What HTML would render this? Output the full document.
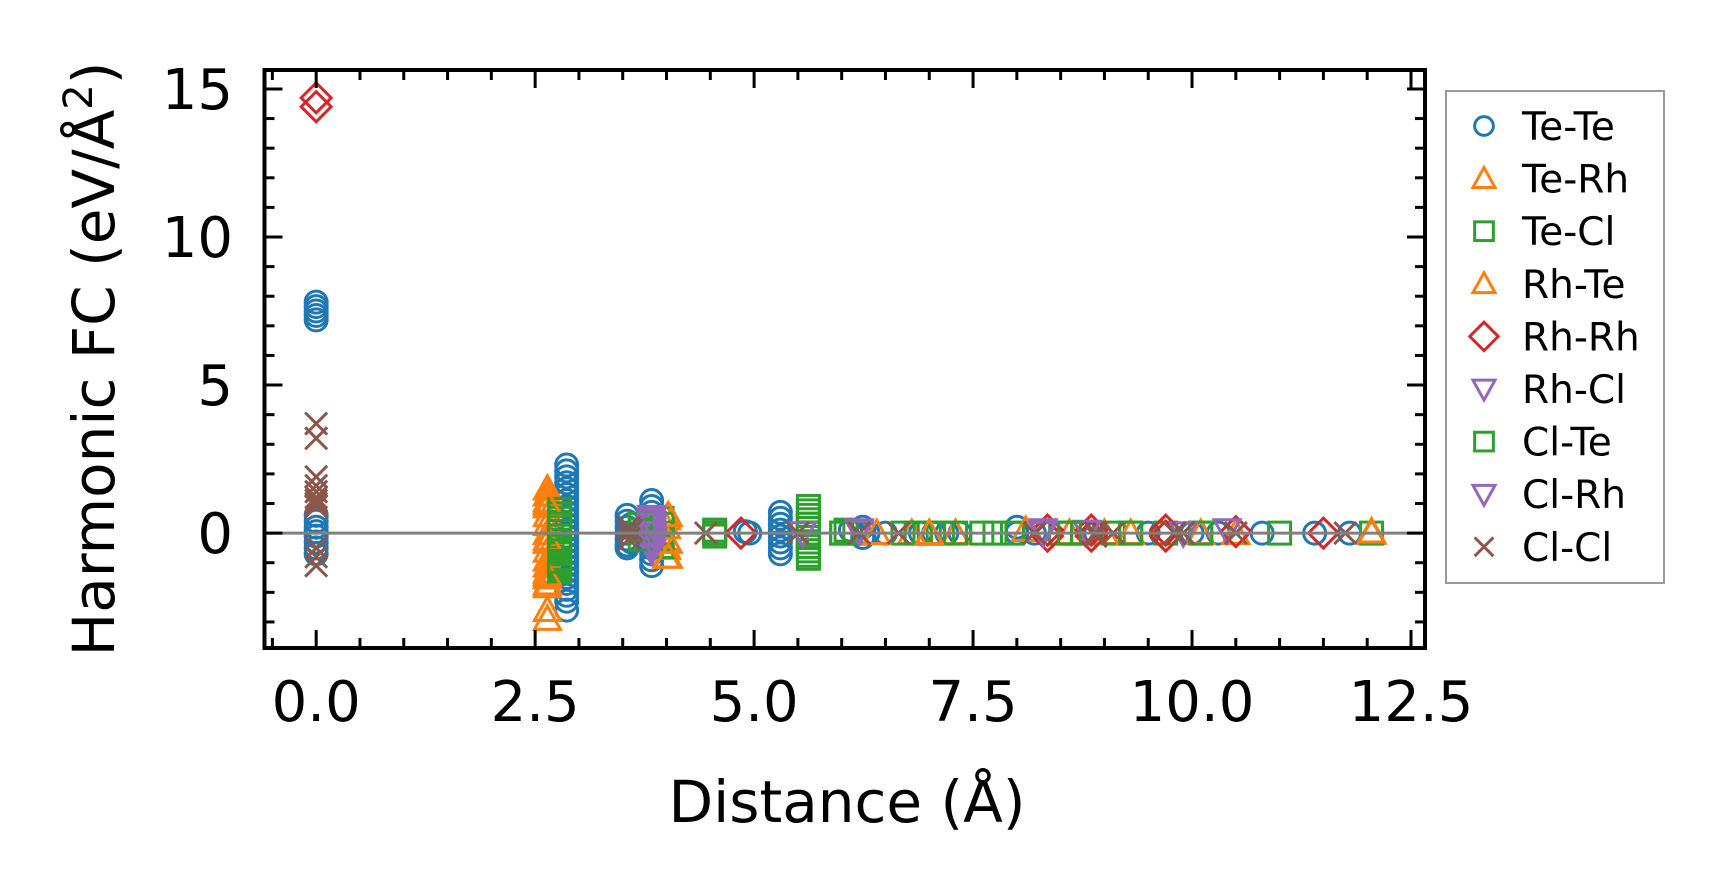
<!DOCTYPE html>
<html><head><meta charset="utf-8"><style>
html,body{margin:0;padding:0;background:#fff;}
svg{display:block;font-family:"DejaVu Sans","Liberation Sans",sans-serif;}
</style></head><body>
<svg id="chart" width="1723" height="893" viewBox="0 0 1723 893" xmlns="http://www.w3.org/2000/svg">
<rect width="1723" height="893" fill="#fff"/>
<g id="marks"></g>
<g id="axes"></g>
<text x="847" y="822" font-size="58" text-anchor="middle">Distance (Å)</text>
<text transform="translate(114,359) rotate(-90)" font-size="58" text-anchor="middle">Harmonic FC (eV/Å<tspan dy="-22" font-size="40">2</tspan><tspan dy="22">)</tspan></text>
<g id="legend"></g>
</svg>
<script>
const xTicks = [0, 2.5, 5, 7.5, 10, 12.5];
const xTickLabels = ["0.0", "2.5", "5.0", "7.5", "10.0", "12.5"];
const yTicks = [0, 5, 10, 15];
const yTickLabels = ["0", "5", "10", "15"];
const seriesNames = ["Te-Te","Te-Rh","Te-Cl","Rh-Te","Rh-Rh","Rh-Cl","Cl-Te","Cl-Rh","Cl-Cl"];

const teteX = [0,0,0,0,0,0,0,0,0,0,0,0,0, 2.86,2.86,2.86,2.86,2.86,2.86,2.86,2.86,2.86,2.86,2.86,2.86,2.86,2.86,2.86,2.86,2.86,2.86,2.86,2.86,2.86,2.86,2.86,2.86,2.86, 3.55,3.55,3.55,3.55,3.55,3.55,3.55,3.6,3.6, 3.83,3.83,3.83,3.83,3.83,3.83,3.83,3.83,3.85,3.85, 4.9,4.95, 5.3,5.3,5.3,5.3,5.3,5.3,5.3,5.3, 6.1,6.24,6.3,6.24,6.5,6.9,7.05,7.2,7.35,8.0,8.0,8.2,8.9,9.5,9.65,10.0,10.3,10.8,11.4,11.8];
const teteY = [7.8,7.65,7.5,7.35,7.2,0.6,0.4,0.2,0.05,-0.1,-0.3,-0.5,-0.7, 2.3,2.1,1.9,1.7,1.5,1.3,1.1,0.9,0.7,0.5,0.3,0.1,-0.1,-0.3,-0.5,-0.7,-0.9,-1.1,-1.3,-1.5,-1.7,-1.9,-2.1,-2.3,-2.6, 0.6,0.4,0.2,0,-0.2,-0.4,-0.5,0.3,-0.3, 1.1,0.9,0.7,0.5,-0.5,-0.7,-0.9,-1.1,0.2,-0.2, 0.05,0, 0.7,0.5,0.3,0.1,-0.1,-0.3,-0.5,-0.7, 0.1,0.2,0,-0.15,0,0,0,0,0,0.2,0,0,0,0,0,0,0,0,0,0];
const terhX = [2.64,2.64,2.64,2.64,2.64,2.64,2.64,2.64,2.64,2.64,2.64,2.64,2.64,2.64,2.64,2.64,2.64, 4.0,4.0,4.0,4.0,4.0, 6.8,7.3,8.6,9.0,10.5,12.05];
const terhY = [1.5,1.3,1.1,0.9,0.6,0.3,0,-0.3,-0.6,-0.9,-1.1,-1.3,-1.5,-1.7,-1.8,-2.6,-2.9, 0.5,0.2,-0.2,-0.5,-0.8, 0,0,0,0,0,0];
const teclX = [2.78,2.78,2.78,2.78,2.78,2.78,2.78,2.78,2.78,2.78,2.78,2.78,2.78,2.78,2.78,2.78, 3.95,3.95,3.95,3.95,3.95, 4.55,4.55,4.55, 5.62,5.62,5.62,5.62,5.62,5.62,5.62,5.62,5.62,5.62,5.62,5.62,5.62, 6.0,6.05,6.15,6.7,6.85,7.0,7.15,7.3,7.75,7.95,8.5,8.6,8.75,9.1,9.3,9.7,10.1,11.0,12.05];
const teclY = [0.8,0.65,0.5,0.35,0.2,0.05,-0.1,-0.25,-0.4,-0.55,-0.7,-0.85,-1.0,-1.1,-1.2,-1.3, 0.5,0.3,0,-0.2,-0.45, 0.1,0,-0.1, 0.9,0.75,0.6,0.45,0.3,0.15,0,-0.15,-0.3,-0.45,-0.6,-0.75,-0.85, 0,0.1,0,0,0,0,0,0,0,0,0,0,0,0,0,0,0,0,0];
const rhteX = [2.64,2.64,2.64,4.02,4.02,4.02, 6.4,7.0,8.1,9.3,10.1,12.05];
const rhteY = [1.0,-0.2,-1.4,0.6,-0.3,-0.8, 0,0,0.1,0,0,0.05];
const rhrhX = [0,0,4.85,8.35,8.35,8.85,8.85,9.7,9.7,10.5,11.5];
const rhrhY = [14.7,14.4,0,0.1,-0.1,0.1,-0.1,0.1,-0.1,0.05,0];
const rhclX = [3.83,3.83,3.83,3.83,3.83,3.83,3.83,3.83,3.83,3.83, 6.2,8.3,8.8,10.4];
const rhclY = [0.55,0.45,0.35,0.2,0.1,-0.05,-0.15,-0.3,-0.45,-0.6, 0.1,0.1,0.05,0.1];
const clteX = [2.78,2.78,2.78,3.7,3.7,3.7,5.62,5.62,6.0,7.6,8.6,9.3,10.1];
const clteY = [0.3,-0.6,-0.95,0.3,0.1,-0.2,0.3,-0.3,0,0,0,0,0];
const clrhX = [3.83,3.83,3.83,5.55,6.2,8.3,9.9];
const clrhY = [0.3,0,-0.3,0,0.05,0,0];
const clclX = [0,0,0,0,0,0,0,0,0,0,0,0, 3.57,3.57,3.57,3.6, 4.45,5.5,6.2,6.65,8.2,8.9,8.9,9.1,9.8,9.9,10.5,11.75];
const clclY = [3.7,3.2,1.9,1.6,1.4,1.2,1.1,1.0,0.9,-0.5,-0.8,-1.1, 0.2,0,-0.2,0.1, 0,0,0,0,0,0,-0.1,0,0,0,0,0];

const X0=264.5, X1=1425, Y0=70, Y1=648;
const xMin=-0.59, xMax=12.66, yMin=-3.88, yMax=15.64;
function sx(v){return X0+(v-xMin)/(xMax-xMin)*(X1-X0);}
function sy(v){return Y1-(v-yMin)/(yMax-yMin)*(Y1-Y0);}
const NS="http://www.w3.org/2000/svg";
function mk(tag,attrs,parent){const e=document.createElementNS(NS,tag);for(const k in attrs)e.setAttribute(k,attrs[k]);parent.appendChild(e);return e;}

function marker(shape,cx,cy,color,parent,s){
  s=s||1;let e;const sw=3;
  if(shape==="o"){e=mk("circle",{cx:cx,cy:cy,r:11*s,fill:"none",stroke:color,"stroke-width":sw},parent);}
  else if(shape==="^"){const r=13*s;e=mk("polygon",{points:`${cx},${cy-r} ${cx+r},${cy+r*0.8} ${cx-r},${cy+r*0.8}`,fill:"none",stroke:color,"stroke-width":sw},parent);}
  else if(shape==="v"){const r=13*s;e=mk("polygon",{points:`${cx},${cy+r} ${cx+r},${cy-r*0.8} ${cx-r},${cy-r*0.8}`,fill:"none",stroke:color,"stroke-width":sw},parent);}
  else if(shape==="s"){const r=11*s;e=mk("rect",{x:cx-r,y:cy-r,width:2*r,height:2*r,fill:"none",stroke:color,"stroke-width":sw},parent);}
  else if(shape==="D"){const r=15*s;e=mk("polygon",{points:`${cx},${cy-r} ${cx+r},${cy} ${cx},${cy+r} ${cx-r},${cy}`,fill:"none",stroke:color,"stroke-width":sw},parent);}
  else {const r=11*s;e=mk("path",{d:`M${cx-r},${cy-r}L${cx+r},${cy+r}M${cx-r},${cy+r}L${cx+r},${cy-r}`,fill:"none",stroke:color,"stroke-width":sw},parent);}
  return e;
}

const seriesDefs = [
  {xs:teteX,ys:teteY,shape:"o",color:"#1f77b4"},
  {xs:terhX,ys:terhY,shape:"^",color:"#ff7f0e"},
  {xs:teclX,ys:teclY,shape:"s",color:"#2ca02c"},
  {xs:rhteX,ys:rhteY,shape:"^",color:"#ff7f0e"},
  {xs:rhrhX,ys:rhrhY,shape:"D",color:"#d62728"},
  {xs:rhclX,ys:rhclY,shape:"v",color:"#9467bd"},
  {xs:clteX,ys:clteY,shape:"s",color:"#2ca02c"},
  {xs:clrhX,ys:clrhY,shape:"v",color:"#9467bd"},
  {xs:clclX,ys:clclY,shape:"x",color:"#8c564b"}
];

const marks=document.getElementById("marks");
seriesDefs.forEach((d,si)=>{
  const g=mk("g",{},marks);
  
  
  for(let i=0;i<d.xs.length;i++){
    const m=marker(d.shape,sx(d.xs[i]),sy(d.ys[i]),d.color,g);
    
    
  }
});
const zl=mk("line",{x1:X0,x2:X1,y1:sy(0),y2:sy(0),stroke:"#808080","stroke-width":3},marks);



const axes=document.getElementById("axes");
for(let k=-1;k<=25;k++){const v=k*0.5;if(v<xMin||v>xMax)continue;const major=(k%5===0);const L=major?18:10;const x=sx(v);
  let t=mk("line",{x1:x,x2:x,y1:Y1,y2:Y1-L,stroke:"#000","stroke-width":3},axes);
  
  
  t=mk("line",{x1:x,x2:x,y1:Y0,y2:Y0+L,stroke:"#000","stroke-width":3},axes);
  
  }
for(let v=-3;v<=15;v++){const major=(v%5===0);const L=major?18:10;const y=sy(v);
  let t=mk("line",{x1:X0,x2:X0+L,y1:y,y2:y,stroke:"#000","stroke-width":3},axes);
  
  
  t=mk("line",{x1:X1,x2:X1-L,y1:y,y2:y,stroke:"#000","stroke-width":3},axes);
  
  }
xTicks.forEach((v,i)=>{const t=mk("text",{x:sx(v),y:721,"font-size":56,"text-anchor":"middle"},axes);t.textContent=xTickLabels[i];
  
  });
yTicks.forEach((v,i)=>{const t=mk("text",{x:233,y:sy(v)+20,"font-size":56,"text-anchor":"end"},axes);t.textContent=yTickLabels[i];
  
  });
const frame=mk("rect",{x:X0,y:Y0,width:X1-X0,height:Y1-Y0,fill:"none",stroke:"#000","stroke-width":4},axes);



const leg=document.getElementById("legend");
const lb=mk("rect",{x:1446,y:91,width:218,height:492,fill:"#fff",stroke:"#999","stroke-width":2},leg);


seriesDefs.forEach((d,i)=>{const cy=126+i*52.6;
  const g=mk("g",{},leg);
  
  
  marker(d.shape,1484,cy,d.color,g,d.shape==="D"?0.95:0.85);
  const t=mk("text",{x:1522,y:cy+14,"font-size":39},g);t.textContent=seriesNames[i];
});
</script>
</body></html>
